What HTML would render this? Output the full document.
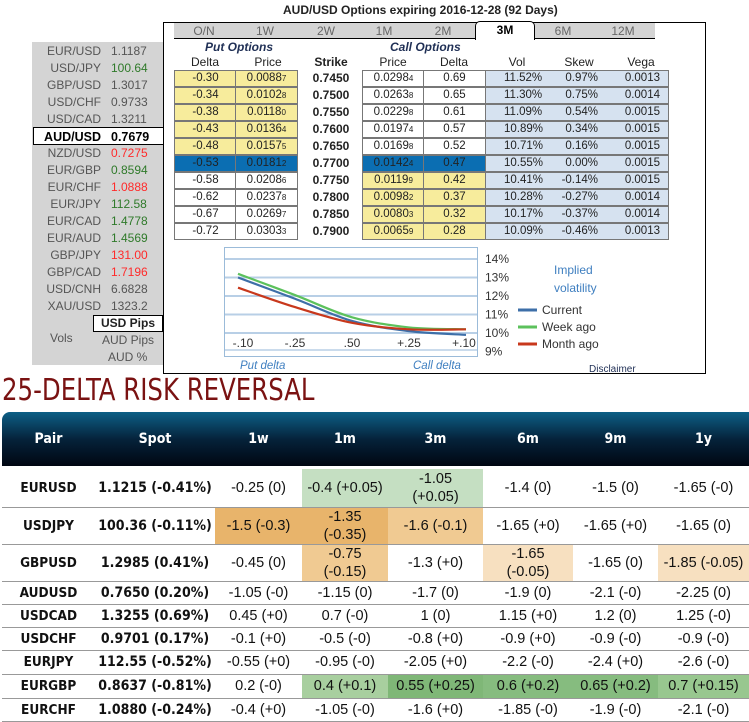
<!DOCTYPE html>
<html><head><meta charset="utf-8">
<style>
*{box-sizing:border-box;margin:0;padding:0}
body{width:749px;height:722px;background:#fff;position:relative;overflow:hidden;font-family:"Liberation Sans",Arial,sans-serif;color:#222}
.a{position:absolute}
.lp{position:absolute;left:32px;top:42px;width:131px;height:323px;background:#d4d4d4}
.lr{position:absolute;left:32px;width:131px;height:17px;font-size:12px;line-height:17px;color:#555}
.lr .n{position:absolute;right:62px;text-align:right}
.lr .v{position:absolute;left:79px}
.g{color:#2f7a2a}.r{color:#ff2a2a}
.box{position:absolute;left:163px;top:22px;width:543px;height:352px;border:1.5px solid #000}
.tab{position:absolute;top:23px;height:16px;font-size:12px;color:#666;text-align:center;line-height:16px}
.c{position:absolute;height:17px;font-size:11.5px;line-height:15px;text-align:center;border:1.5px solid #777;color:#222}
.c small{font-size:8px}
.y{background:#f7ec9c}.w{background:#fff}.b{background:#0b6eb2}.lb{background:#d6e2f0}
.hd{position:absolute;font-size:12px;text-align:center;width:62px}
table{position:absolute;left:2px;top:412px;width:747px;border-collapse:collapse;table-layout:fixed;font-family:"Liberation Sans",sans-serif}
th{height:55px;color:#fff;font-weight:bold;font-size:14px;font-family:"DejaVu Sans Condensed","Liberation Sans",sans-serif}
thead tr{background:linear-gradient(#0d5f86,#05223a 50%,#000510)}
td{text-align:center;font-size:14.5px;color:#111;line-height:18px;border-bottom:1.5px solid #999;padding:0;white-space:nowrap;overflow:hidden}
td.p{font-weight:bold;font-family:"DejaVu Sans Condensed","Liberation Sans",sans-serif;font-size:13.5px;color:#111}
td.s{font-weight:bold;font-family:"DejaVu Sans Condensed","Liberation Sans",sans-serif;font-size:14px}
.o1{background:#e8b46b}.o2{background:#f0ca92}.o3{background:#f7e0c0}.gl{background:#c5dfc2}.g1{background:#a8cf9f}.g2{background:#7fb777}.g3{background:#86bc7f}.g4{background:#98c78f}
</style></head><body>
<div class="a" style="left:283px;top:3px;font-size:12px;font-weight:bold;color:#222">AUD/USD Options expiring 2016-12-28 (92 Days)</div>

<div class="lp"></div>
<div id="lrows"></div>
<div class="a" style="left:33px;top:127px;width:131px;height:18px;background:#fff;border:1.5px solid #000"></div>
<div class="a" style="left:93px;top:315px;width:70px;height:17px;background:#fff;border:1.5px solid #000;font-size:12px;font-weight:bold;text-align:center;line-height:14px">USD Pips</div>
<div class="a" style="left:50px;top:331px;font-size:12px;color:#555">Vols</div>
<div class="a" style="left:102px;top:333px;font-size:12px;color:#555">AUD Pips</div>
<div class="a" style="left:108px;top:350px;font-size:12px;color:#555">AUD %</div>

<div class="box"></div>
<div class="a" style="left:174px;top:23px;width:481px;height:16px;background:#d4d4d4;border-bottom:1.5px solid #000"></div>
<div class="a" style="left:475px;top:21px;width:60px;height:19px;background:#fff;border:1.5px solid #000;border-bottom:none;border-radius:5px 5px 0 0"></div>
<div id="tabs"></div>

<div class="a" style="left:205px;top:40px;font-size:12px;font-weight:bold;font-style:italic;color:#1f2f55">Put Options</div>
<div class="a" style="left:390px;top:40px;font-size:12px;font-weight:bold;font-style:italic;color:#1f2f55">Call Options</div>
<div id="hdrs"></div>
<div id="cells"></div>

<svg class="a" style="left:0;top:0" width="749" height="380" id="chart"></svg>

<div class="a" style="left:2px;top:373px;font-family:'DejaVu Sans Condensed',sans-serif;font-size:30px;color:#7a1212;transform:scaleX(0.905);transform-origin:0 0;white-space:nowrap">25-DELTA RISK REVERSAL</div>

<table>
<colgroup><col style="width:93px"><col style="width:120px"><col style="width:87px"><col style="width:86px"><col style="width:95px"><col style="width:90px"><col style="width:85px"><col style="width:91px"></colgroup>
<thead><tr><th style="border-top-left-radius:8px">Pair</th><th>Spot</th><th>1w</th><th>1m</th><th>3m</th><th>6m</th><th>9m</th><th>1y</th></tr></thead>
<tbody id="tb"></tbody></table>

<script>
const lnames=["EUR/USD","USD/JPY","GBP/USD","USD/CHF","USD/CAD","AUD/USD","NZD/USD","EUR/GBP","EUR/CHF","EUR/JPY","EUR/CAD","EUR/AUD","GBP/JPY","GBP/CAD","USD/CNH","XAU/USD"];
const lvals=["1.1187","100.64","1.3017","0.9733","1.3211","0.7679","0.7275","0.8594","1.0888","112.58","1.4778","1.4569","131.00","1.7196","6.6828","1323.2"];
const lcls=["","g","","","","","r","g","r","g","g","g","r","r","",""];
let h="";
lnames.forEach((n,i)=>{const sel=i==5;h+=`<div class="lr" style="top:${43+i*17+(sel?1:0)}px;z-index:${sel?5:1};${sel?'color:#000;font-weight:bold;font-size:12.5px':''}"><span class="n">${n}</span><span class="v ${sel?'':lcls[i]}">${lvals[i]}</span></div>`;});
document.getElementById('lrows').innerHTML=h;
const tabs=[["O/N",204],["1W",265],["2W",326],["1M",384],["2M",443],["3M",505],["6M",563],["12M",623]];
h="";tabs.forEach(t=>{h+=`<div class="tab" style="left:${t[1]-25}px;width:50px;${t[0]=='3M'?'color:#000;font-weight:bold;top:22px':''}">${t[0]}</div>`});
document.getElementById('tabs').innerHTML=h;
const hd=[["Delta",174],["Price",237],["Strike",300],["Price",362],["Delta",423],["Vol",486],["Skew",548],["Vega",610]];
h="";hd.forEach((x,i)=>{h+=`<div class="hd" style="left:${x[1]}px;top:55px;${x[0]=='Strike'?'font-weight:bold;':''}">${x[0]}</div>`});
document.getElementById('hdrs').innerHTML=h;
const pd=["-0.30","-0.34","-0.38","-0.43","-0.48","-0.53","-0.58","-0.62","-0.67","-0.72"];
const pp=["0.0088|7","0.0102|8","0.0118|0","0.0136|4","0.0157|5","0.0181|2","0.0208|6","0.0237|8","0.0269|7","0.0303|3"];
const sk=["0.7450","0.7500","0.7550","0.7600","0.7650","0.7700","0.7750","0.7800","0.7850","0.7900"];
const cp=["0.0298|4","0.0263|8","0.0229|8","0.0197|4","0.0169|8","0.0142|4","0.0119|9","0.0098|2","0.0080|3","0.0065|9"];
const cd=["0.69","0.65","0.61","0.57","0.52","0.47","0.42","0.37","0.32","0.28"];
const vol=["11.52%","11.30%","11.09%","10.89%","10.71%","10.55%","10.41%","10.28%","10.17%","10.09%"];
const skw=["0.97%","0.75%","0.54%","0.34%","0.16%","0.00%","-0.14%","-0.27%","-0.37%","-0.46%"];
const vg=["0.0013","0.0014","0.0015","0.0015","0.0015","0.0015","0.0015","0.0014","0.0014","0.0013"];
const px=s=>{const a=s.split('|');return a[0]+'<small>'+a[1]+'</small>'};
h="";
for(let i=0;i<10;i++){const t=70+i*17;const pc=i<5?'y':i==5?'b':'w';const cc=i<5?'w':i==5?'b':'y';
h+=`<div class="c ${pc}" style="left:174px;top:${t}px;width:63px">${pd[i]}</div>`;
h+=`<div class="c ${pc}" style="left:235px;top:${t}px;width:63px">${px(pp[i])}</div>`;
h+=`<div class="a" style="left:300px;top:${t+1}px;width:62px;text-align:center;font-size:12px;font-weight:bold">${sk[i]}</div>`;
h+=`<div class="c ${cc}" style="left:362px;top:${t}px;width:63px">${px(cp[i])}</div>`;
h+=`<div class="c ${cc}" style="left:423px;top:${t}px;width:63px">${cd[i]}</div>`;
h+=`<div class="c lb" style="left:485px;top:${t}px;width:184px"><span style="position:absolute;left:18px">${vol[i]}</span><span style="position:absolute;right:70px">${skw[i]}</span><span style="position:absolute;right:8px">${vg[i]}</span></div>`;}
document.getElementById('cells').innerHTML=h;

const deltas=["-.10","-.25",".50","+.25","+.10"];
const current=[13.0,11.85,10.65,10.1,9.9];
const weekAgo=[13.2,12.05,10.85,10.3,10.2];
const monthAgo=[12.45,11.4,10.55,10.2,10.2];
const yTicks=[9,10,11,12,13,14];
const NS="http://www.w3.org/2000/svg";
const svg=document.getElementById('chart');
const xs=i=>238+i*57;
const ys=v=>333-(v-10)*18.5;
function el(t,a){const e=document.createElementNS(NS,t);for(const k in a)e.setAttribute(k,a[k]);svg.appendChild(e);return e;}
const frame=el('rect',{x:224.5,y:247.5,width:253,height:109,fill:'#fff',stroke:'#9bbbd9','stroke-width':1});


yTicks.forEach(v=>{
 if(v>=10){const l=el('line',{x1:225,x2:477,y1:ys(v),y2:ys(v),stroke:'#b8cfe6','stroke-width':2});
 
 }
 const t=el('text',{x:485,y:ys(v)+4,'font-size':12,fill:'#333','font-family':'Liberation Sans'});t.textContent=v+'%';
 
 
});
const bl=el('line',{x1:225,x2:477,y1:350,y2:350,stroke:'#b8cfe6','stroke-width':1.5});


deltas.forEach((d,i)=>{const t=el('text',{x:xs(i)+(i==0?5:i==4?-2:0),y:347,'font-size':12,fill:'#333','text-anchor':'middle','font-family':'Liberation Sans'});t.textContent=d;
 
 });
function path(vals){const p=vals.map((v,i)=>[xs(i),ys(v)]);let d=`M${p[0][0]},${p[0][1]}`;
 for(let i=0;i<p.length-1;i++){const p0=p[Math.max(0,i-1)],p1=p[i],p2=p[i+1],p3=p[Math.min(p.length-1,i+2)];
 d+=` C${p1[0]+(p2[0]-p0[0])/6},${p1[1]+(p2[1]-p0[1])/6} ${p2[0]-(p3[0]-p1[0])/6},${p2[1]-(p3[1]-p1[1])/6} ${p2[0]},${p2[1]}`;}
 return d;}
[[weekAgo,'#5cc15c','week-ago-line'],[current,'#3e6fa8','current-line'],[monthAgo,'#c8381c','month-ago-line']].forEach(s=>{
 const e=el('path',{d:path(s[0]),fill:'none',stroke:s[1],'stroke-width':2.2});
 
 });
function tx(x,y,s,c,fs,name,extra){const t=el('text',Object.assign({x:x,y:y,'font-size':fs,fill:c,'font-family':'Liberation Sans'},extra||{}));t.textContent=s;
 
 return t;}
tx(554,274,'Implied','#3f7fc0',12,'legend-title-1');
tx(554,292,'volatility','#3f7fc0',12,'legend-title-2');
[['Current','#3e6fa8',310],['Week ago','#5cc15c',327],['Month ago','#c8381c',344]].forEach((l,i)=>{
 const ln=el('line',{x1:518,x2:537,y1:l[2],y2:l[2],stroke:l[1],'stroke-width':3});
 
 
 tx(542,l[2]+4,l[0],'#333',12,'legend-entry-'+i);});
tx(240,369,'Put delta','#3f7fc0',11.5,'put-delta-label',{'font-style':'italic'});
tx(413,369,'Call delta','#3f7fc0',11.5,'call-delta-label',{'font-style':'italic'});
const dis=tx(589,372,'Disclaimer','#1f2f55',10,'disclaimer-link');


const rows=[
["EURUSD","1.1215 (-0.41%)",["-0.25 (0)",""],["-0.4 (+0.05)","gl"],["-1.05<br>(+0.05)","gl"],["-1.4 (0)",""],["-1.5 (0)",""],["-1.65 (-0)",""]],
["USDJPY","100.36 (-0.11%)",["-1.5 (-0.3)","o1"],["-1.35<br>(-0.35)","o1"],["-1.6 (-0.1)","o2"],["-1.65 (+0)",""],["-1.65 (+0)",""],["-1.65 (0)",""]],
["GBPUSD","1.2985 (0.41%)",["-0.45 (0)",""],["-0.75<br>(-0.15)","o2"],["-1.3 (+0)",""],["-1.65<br>(-0.05)","o3"],["-1.65 (0)",""],["-1.85 (-0.05)","o3"]],
["AUDUSD","0.7650 (0.20%)",["-1.05 (-0)",""],["-1.15 (0)",""],["-1.7 (0)",""],["-1.9 (0)",""],["-2.1 (-0)",""],["-2.25 (0)",""]],
["USDCAD","1.3255 (0.69%)",["0.45 (+0)",""],["0.7 (-0)",""],["1 (0)",""],["1.15 (+0)",""],["1.2 (0)",""],["1.25 (-0)",""]],
["USDCHF","0.9701 (0.17%)",["-0.1 (+0)",""],["-0.5 (-0)",""],["-0.8 (+0)",""],["-0.9 (+0)",""],["-0.9 (-0)",""],["-0.9 (-0)",""]],
["EURJPY","112.55 (-0.52%)",["-0.55 (+0)",""],["-0.95 (-0)",""],["-2.05 (+0)",""],["-2.2 (-0)",""],["-2.4 (+0)",""],["-2.6 (-0)",""]],
["EURGBP","0.8637 (-0.81%)",["0.2 (-0)",""],["0.4 (+0.1)","g1"],["0.55 (+0.25)","g2"],["0.6 (+0.2)","g3"],["0.65 (+0.2)","g3"],["0.7 (+0.15)","g4"]],
["EURCHF","1.0880 (-0.24%)",["-0.4 (+0)",""],["-1.05 (-0)",""],["-1.6 (+0)",""],["-1.85 (-0)",""],["-1.9 (-0)",""],["-2.1 (-0)",""]]];
const rh=[40,36,37,23,23,23,24,24,23];
h="";rows.forEach((r,i)=>{const top=i==0?'border-top:3px solid #fff;':'';
 h+=`<tr style="height:${rh[i]}px"><td class="p" style="${top}">${r[0]}</td><td class="s" style="${top}">${r[1]}</td>`;
 for(let j=2;j<8;j++)h+=`<td class="${r[j][1]}" style="${top}">${r[j][0]}</td>`;
 h+='</tr>';});
document.getElementById('tb').innerHTML=h;
</script>
</body></html>
